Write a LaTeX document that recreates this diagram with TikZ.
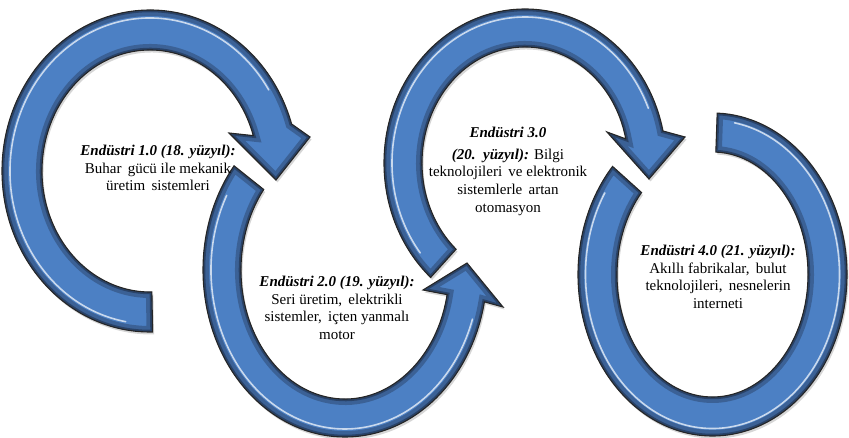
\documentclass[tikz,border=0pt]{standalone}
\usepackage{fontspec}
\setmainfont{Liberation Serif}
\usetikzlibrary{calc}
\definecolor{arrowblue}{RGB}{76,128,196}
\definecolor{bevelcol}{RGB}{28,42,66}
\newcommand\ArrPathA{($(150,171)+({148*cos(89)},{161*sin(89)})$) arc[start angle=89, end angle=343, x radius=148, y radius=161] -- (310,137) -- (276,180) -- (229,133) -- ($(150,171)+({108*cos(343)},{121*sin(343)})$) arc[start angle=343, end angle=89, x radius=108, y radius=121] -- cycle}
\newcommand\ArrPathB{($(345,270)+({142*cos(218.6)},{167*sin(218.6)})$) arc[start angle=218.6, end angle=11, x radius=142, y radius=167] -- (503,307) -- (467,263) -- (423,290) -- ($(345,270)+({104*cos(11)},{129*sin(11)})$) arc[start angle=11, end angle=218.6, x radius=104, y radius=129] -- cycle}
\newcommand\ArrPathC{($(525,163)+({141*cos(132)},{154*sin(132)})$) arc[start angle=132, end angle=348, x radius=141, y radius=154] -- (685,137) -- (649,179) -- (607,132) -- ($(525,163)+({103*cos(348)},{116*sin(348)})$) arc[start angle=348, end angle=132, x radius=103, y radius=116] -- cycle}
\newcommand\ArrPathD{($(712.5,274.5)+({134.5*cos(222)},{161.5*sin(222)})$) arc[start angle=222, end angle=-88, x radius=134.5, y radius=161.5] -- ($(712.5,274.5)+({95.5*cos(-88)},{122.5*sin(-88)})$) arc[start angle=-88, end angle=222, x radius=95.5, y radius=122.5] -- cycle}
\newcommand\wsp{\hspace{2.5pt}}
\tikzset{
  arrowfill/.style={fill=arrowblue},
  arrowline/.style={draw=black!85, line width=1.1pt, line join=miter},
  arrowshadow/.style={fill=black, opacity=0.16},
  bevelwide/.style={draw=bevelcol, line width=12pt, opacity=0.35, line join=miter},
  bevelnarrow/.style={draw=bevelcol, line width=4.5pt, opacity=0.55, line join=miter},
  glint/.style={draw=white, line width=1.6pt, opacity=0.7, line cap=round},
  caption/.style={font=\fontsize{15}{17.6}\selectfont, align=center, inner sep=0pt, text=black}
}
\begin{document}
\begin{tikzpicture}[x=1pt, y=-1pt]
\useasboundingbox (0,0) rectangle (849,438);
% shadows
\fill[arrowshadow, shift={(1.5,2.5)}] \ArrPathA;
\fill[arrowshadow, shift={(1.5,2.5)}] \ArrPathB;
\fill[arrowshadow, shift={(1.5,2.5)}] \ArrPathC;
\fill[arrowshadow, shift={(1.5,2.5)}] \ArrPathD;
% arrow 1
\fill[arrowfill] \ArrPathA;
\begin{scope}
  \clip \ArrPathA;
  \draw[bevelwide] \ArrPathA;
  \draw[bevelnarrow] \ArrPathA;
\end{scope}
\draw[glint] ($(150,171)+({140*cos(100)},{153*sin(100)})$) arc[start angle=100, end angle=328, x radius=140, y radius=153];
\draw[arrowline] \ArrPathA;
% arrow 2
\fill[arrowfill] \ArrPathB;
\begin{scope}
  \clip \ArrPathB;
  \draw[bevelwide] \ArrPathB;
  \draw[bevelnarrow] \ArrPathB;
\end{scope}
\draw[glint] ($(345,270)+({134*cos(208)},{159*sin(208)})$) arc[start angle=208, end angle=18, x radius=134, y radius=159];
\draw[arrowline] \ArrPathB;
% arrow 3
\fill[arrowfill] \ArrPathC;
\begin{scope}
  \clip \ArrPathC;
  \draw[bevelwide] \ArrPathC;
  \draw[bevelnarrow] \ArrPathC;
\end{scope}
\draw[glint] ($(525,163)+({133*cos(142)},{146*sin(142)})$) arc[start angle=142, end angle=338, x radius=133, y radius=146];
\draw[arrowline] \ArrPathC;
% arrow 4
\fill[arrowfill] \ArrPathD;
\begin{scope}
  \clip \ArrPathD;
  \draw[bevelwide] \ArrPathD;
  \draw[bevelnarrow] \ArrPathD;
\end{scope}
\draw[glint] ($(712.5,274.5)+({127*cos(212)},{154*sin(212)})$) arc[start angle=212, end angle=-80, x radius=127, y radius=154];
\draw[arrowline] \ArrPathD;
% texts
\node[caption] (t1) at (158,168) {\textbf{\textit{Endüstri 1.0 (18. yüzyıl):}}\\ Buhar \wsp gücü ile mekanik\\ üretim \wsp sistemleri};
\node[caption] (t2) at (337,308) {\textbf{\textit{Endüstri 2.0 (19. yüzyıl):}}\\ Seri üretim, \wsp elektrikli\\ sistemler, \wsp içten yanmalı\\ motor};
\node[caption] (t3) at (508,171) {\textbf{\textit{Endüstri 3.0}}\\[4.5pt] \textbf{\textit{(20. \wsp yüzyıl):}} Bilgi\\ teknolojileri \wsp ve elektronik\\ sistemlerle \wsp artan\\ otomasyon};
\node[caption] (t4) at (718,277) {\textbf{\textit{Endüstri 4.0 (21. yüzyıl):}}\\ Akıllı fabrikalar, \wsp bulut\\ teknolojileri, \wsp nesnelerin\\ interneti};
\end{tikzpicture}
\end{document}
